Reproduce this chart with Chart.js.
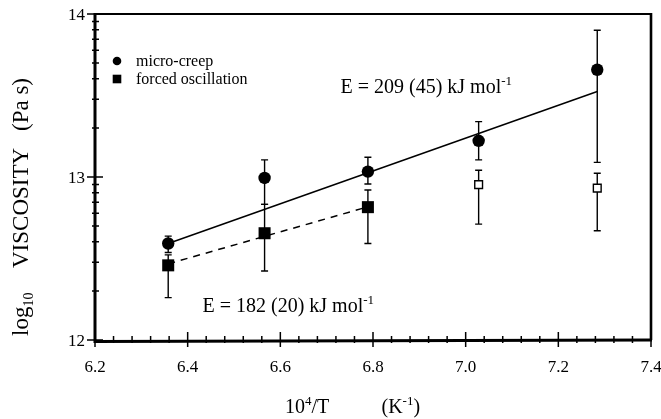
<!DOCTYPE html>
<html>
<head>
<meta charset="utf-8">
<script src="https://cdn.jsdelivr.net/npm/chart.js@4/dist/chart.umd.min.js"></script>
<style>
html,body{margin:0;padding:0;background:#fff;}
#wrap{width:661px;height:419px;}
</style>
</head>
<body>
<div id="wrap"><canvas id="c" width="661" height="419"></canvas></div>
<script>
// ---- data ----
const xTicks = [6.2, 6.4, 6.6, 6.8, 7.0, 7.2, 7.4];
const yTicks = [12, 13, 14];

const creepX  = [6.358, 6.566, 6.789, 7.028, 7.284];
const creepY  = [12.592, 12.994, 13.033, 13.222, 13.658];
const creepHi = [12.637, 13.105, 13.121, 13.340, 13.900];
const creepLo = [12.537, 12.832, 12.957, 13.105, 13.090];

const oscX  = [6.358, 6.566, 6.789];
const oscY  = [12.458, 12.655, 12.815];
const oscHi = [12.522, 12.832, 12.920];
const oscLo = [12.260, 12.423, 12.592];

const oscOpenX  = [7.028, 7.284];
const oscOpenY  = [12.953, 12.932];
const oscOpenHi = [13.041, 13.023];
const oscOpenLo = [12.711, 12.670];

const fitCreepX = [6.358, 7.284];
const fitCreepY = [12.592, 13.525];
const fitOscX   = [6.358, 6.789];
const fitOscY   = [12.467, 12.817];

const legendLabels = ['micro-creep', 'forced oscillation'];

const pts = (xs, ys) => xs.map((x, i) => ({x: x, y: ys[i]}));
const SERIF = '"Liberation Serif", "DejaVu Serif", serif';

const errorSets = [
  {xs: creepX, hi: creepHi, lo: creepLo},
  {xs: oscX, hi: oscHi, lo: oscLo},
  {xs: oscOpenX, hi: oscOpenHi, lo: oscOpenLo}
];

const decor = {
  id: 'decor',
  beforeDatasetsDraw(chart) {
    const ctx = chart.ctx, xs = chart.scales.x, ys = chart.scales.y;
    ctx.save();
    ctx.strokeStyle = '#000';
    ctx.lineWidth = 1.4;
    errorSets.forEach(s => {
      s.xs.forEach((xv, i) => {
        const px = xs.getPixelForValue(xv);
        const ph = ys.getPixelForValue(s.hi[i]);
        const pl = ys.getPixelForValue(s.lo[i]);
        ctx.beginPath();
        ctx.moveTo(px, ph); ctx.lineTo(px, pl);
        ctx.moveTo(px - 3.5, ph); ctx.lineTo(px + 3.5, ph);
        ctx.moveTo(px - 3.5, pl); ctx.lineTo(px + 3.5, pl);
        ctx.stroke();
      });
    });
    ctx.restore();
  },
  afterDraw(chart) {
    const ctx = chart.ctx, xs = chart.scales.x, ys = chart.scales.y;
    const a = chart.chartArea;
    ctx.save();
    ctx.strokeStyle = '#000';
    ctx.fillStyle = '#000';
    // frame
    ctx.lineWidth = 2;
    ctx.beginPath();
    ctx.moveTo(a.left, a.top); ctx.lineTo(a.right, a.top);
    ctx.stroke();
    ctx.lineWidth = 2.6;
    ctx.beginPath();
    ctx.moveTo(a.right, a.top - 1); ctx.lineTo(a.right, a.bottom);
    ctx.stroke();
    ctx.lineWidth = 3;
    ctx.beginPath();
    ctx.moveTo(a.left, a.top - 1); ctx.lineTo(a.left, a.bottom + 1.5);
    ctx.lineTo(a.right + 1, a.bottom);
    ctx.stroke();
    // x ticks
    ctx.lineWidth = 1.5;
    ctx.beginPath();
    xTicks.forEach(v => {
      const p = xs.getPixelForValue(v);
      ctx.moveTo(p, a.bottom - 8); ctx.lineTo(p, a.bottom + 7);
    });
    for (let i = 0; i < xTicks.length - 1; i++) {
      for (let k = 1; k < 5; k++) {
        const p = xs.getPixelForValue(xTicks[i] + (xTicks[i + 1] - xTicks[i]) * k / 5);
        ctx.moveTo(p, a.bottom - 4); ctx.lineTo(p, a.bottom + 3);
      }
    }
    // y ticks (log minor ticks)
    yTicks.forEach(v => {
      const p = ys.getPixelForValue(v);
      ctx.moveTo(a.left - 8, p); ctx.lineTo(a.left + 8, p);
    });
    for (let i = 0; i < yTicks.length - 1; i++) {
      for (let k = 2; k < 10; k++) {
        const p = ys.getPixelForValue(yTicks[i] + Math.log10(k));
        ctx.moveTo(a.left - 3, p); ctx.lineTo(a.left + 4, p);
      }
    }
    ctx.stroke();

    // tick labels
    ctx.font = '17px ' + SERIF;
    ctx.textAlign = 'center';
    ctx.textBaseline = 'alphabetic';
    xTicks.forEach(v => ctx.fillText(v.toFixed(1), xs.getPixelForValue(v), a.bottom + 32));
    ctx.textAlign = 'right';
    yTicks.forEach(v => ctx.fillText(String(v), a.left - 10, ys.getPixelForValue(v) + 6));

    // legend
    ctx.textAlign = 'left';
    const lx = 117;
    ctx.beginPath(); ctx.arc(lx, 61, 4.3, 0, Math.PI * 2); ctx.fill();
    ctx.fillRect(lx - 4.3, 79 - 4.3, 8.6, 8.6);
    ctx.font = '16px ' + SERIF;
    ctx.fillText(legendLabels[0], 136, 65.5);
    ctx.fillText(legendLabels[1], 136, 83.5);

    // rich text helper
    function rich(parts, x, y) {
      let cx = x;
      parts.forEach(p => {
        ctx.font = p.size + 'px ' + SERIF;
        ctx.fillText(p.t, cx, y + (p.dy || 0));
        cx += ctx.measureText(p.t).width;
      });
    }
    // annotations
    rich([{t: 'E = 209 (45) kJ mol', size: 20}, {t: '-1', size: 13, dy: -8}], 340.5, 92.5);
    rich([{t: 'E = 182 (20) kJ mol', size: 20}, {t: '-1', size: 13, dy: -8}], 202.5, 311.5);

    // x title
    rich([{t: '10', size: 20}, {t: '4', size: 13, dy: -8}, {t: '/T', size: 20}], 285, 413);
    rich([{t: '(K', size: 20}, {t: '-1', size: 13, dy: -8}, {t: ')', size: 20}], 381.5, 413);

    // y title (rotated), three word groups as in the reference
    ctx.translate(28, 0);
    ctx.rotate(-Math.PI / 2);
    rich([{t: 'log', size: 23}, {t: '10', size: 14, dy: 5}], -336, 0);
    rich([{t: 'VISCOSITY', size: 23}], -268, 0);
    rich([{t: '(Pa s)', size: 23}], -131, 0);
    ctx.restore();
  }
};

new Chart(document.getElementById('c'), {
  type: 'scatter',
  data: {
    datasets: [
      {label: 'fit creep', type: 'line', data: pts(fitCreepX, fitCreepY), borderColor: '#000', borderWidth: 1.5, pointRadius: 0, fill: false, order: 5},
      {label: 'fit osc', type: 'line', data: pts(fitOscX, fitOscY), borderColor: '#000', borderWidth: 1.5, borderDash: [7, 6], pointRadius: 0, fill: false, order: 5},
      {label: legendLabels[0], data: pts(creepX, creepY), pointStyle: 'circle', pointRadius: 6.2, backgroundColor: '#000', borderColor: '#000', borderWidth: 0, order: 1},
      {label: legendLabels[1], data: pts(oscX, oscY), pointStyle: 'rect', pointRadius: 8.5, backgroundColor: '#000', borderColor: '#000', borderWidth: 0, order: 1},
      {label: 'forced oscillation (open)', data: pts(oscOpenX, oscOpenY), pointStyle: 'rect', pointRadius: 5.5, backgroundColor: '#fff', borderColor: '#000', borderWidth: 1.4, order: 1}
    ]
  },
  options: {
    responsive: false,
    animation: false,
    events: [],
    layout: {padding: {top: 14, right: 10, left: 0, bottom: 0}},
    plugins: {legend: {display: false}, tooltip: {enabled: false}},
    scales: {
      x: {
        type: 'linear', min: 6.2, max: 7.4,
        afterBuildTicks: s => { s.ticks = xTicks.map(v => ({value: v})); },
        afterFit: s => { s.height = 79; },
        grid: {display: false, drawTicks: false},
        border: {display: false},
        ticks: {display: false}
      },
      y: {
        type: 'linear', min: 12, max: 14,
        afterBuildTicks: s => { s.ticks = yTicks.map(v => ({value: v})); },
        afterFit: s => { s.width = 95; },
        grid: {display: false, drawTicks: false},
        border: {display: false},
        ticks: {display: false}
      }
    }
  },
  plugins: [decor]
});
</script>
</body>
</html>
